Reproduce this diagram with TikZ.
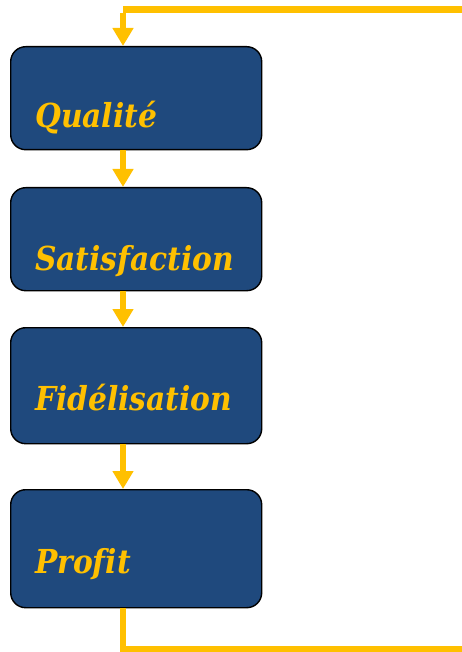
\documentclass[tikz,border=0pt]{standalone}
\usepackage{fontspec}
\setmainfont[Ligatures=NoCommon]{DejaVu Serif Condensed}
\usetikzlibrary{arrows.meta,calc}
\definecolor{boxblue}{RGB}{31,73,125}
\definecolor{gold}{RGB}{255,192,0}
\begin{document}
\begin{tikzpicture}[x=1pt,y=-1pt,
  stage/.style={draw=black,line width=1.4pt,fill=boxblue,rounded corners=15pt,
    minimum width=251pt,inner sep=0pt,anchor=north west},
  label/.style={anchor=base west,inner sep=0pt,text=gold,
    font=\fontsize{33}{38}\selectfont\bfseries\itshape},
  flow/.style={draw=gold,line width=6.5pt,-{Triangle[width=20pt,length=18pt]}},
  back/.style={draw=gold,line width=6.5pt}]
\useasboundingbox (0,0) rectangle (461,652);
% stages of the chain
\node[stage,minimum height=103pt] (q) at (10,46) {};
\node[stage,minimum height=103pt] (s) at (10,187) {};
\node[stage,minimum height=116pt] (f) at (10,327) {};
\node[stage,minimum height=118pt] (p) at (10,489) {};
% texts
\node[label] (tq) at (35,128) {Qualité};
\node[label] (ts) at (35,270) {Satisfaction};
\node[label] (tf) at (35,410) {Fidélisation};
\node[label] (tp) at (35,573) {Profit};
% links between stages
\draw[flow] (q.south -| 123,0) -- (s.north -| 123,0);
\draw[flow] (s.south -| 123,0) -- (f.north -| 123,0);
\draw[flow] (f.south -| 123,0) -- (p.north -| 123,0);
% feedback loop from profit back to quality
\coordinate (lb) at (123,649);
\coordinate (rb) at (475,649);
\coordinate (rt) at (475,9.5);
\coordinate (lt) at (123,9.5);
\draw[back] (p.south -| lb) -- (lb) -- (rb) -- (rt) -- (lt);
\draw[flow] ([yshift=-3.25pt]lt) -- (q.north -| lt);
\end{tikzpicture}
\end{document}
